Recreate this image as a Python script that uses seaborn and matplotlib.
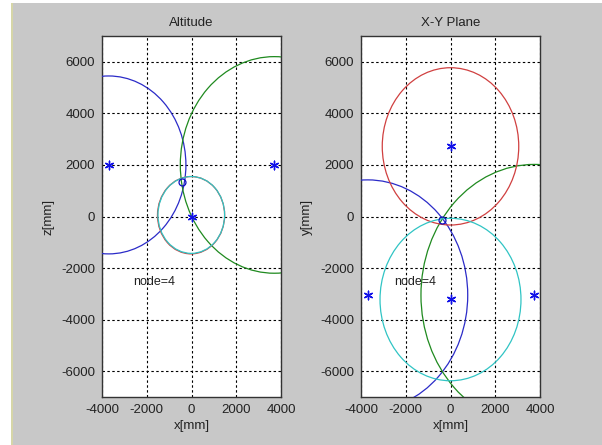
import numpy as np
import pandas as pd
import matplotlib
matplotlib.use('Agg')
import matplotlib.pyplot as plt
from matplotlib.patches import Circle, Rectangle
import seaborn as sns

# circles (sphere slices) seen in each view: centre x, centre y, radius
alt_cx = [-3700, 3700, -20, -10]
alt_cz = [2000, 2000, 50, 60]
alt_r = [3450, 4200, 1500, 1490]

xy_cx = [-3700, 3750, 0, 0]
xy_cy = [-3050, -3050, 2720, -3220]
xy_r = [4470, 5070, 3050, 3150]

ring_colors = ['#2b2bc8', '#1f8a1f', '#d04040', '#30c4c4']

# node positions (stars)
alt_node_x = [-3700, 3700, 0]
alt_node_z = [2000, 2000, 0]
xy_node_x = [-3700, 3750, 0, 0]
xy_node_y = [-3050, -3050, 2750, -3200]

# estimated position (small circle)
alt_est = (-430, 1330)
xy_est = (-370, -150)

x_ticks = [-4000, -2000, 0, 2000, 4000]
y_ticks = [-6000, -4000, -2000, 0, 2000, 4000, 6000]
node_label = 'node=4'

sns.set_style('white')
plt.rcParams['font.family'] = ['Liberation Sans', 'DejaVu Sans']
plt.rcParams['axes.unicode_minus'] = False

bg = '#c8c8c8'
fig = plt.figure(figsize=(6.02, 4.45), dpi=100, facecolor=bg)
# white margins of the scanned page
fig.patches.append(Rectangle((0, 0), 11 / 602, 1, transform=fig.transFigure,
                             facecolor='white', edgecolor='none', zorder=0))
fig.patches.append(Rectangle((11 / 602, 0), 2 / 602, 1, transform=fig.transFigure,
                             facecolor='#d6d6a8', edgecolor='none', zorder=0))
fig.patches.append(Rectangle((0, 1 - 3 / 445), 1, 3 / 445, transform=fig.transFigure,
                             facecolor='white', edgecolor='none', zorder=0))

ax1 = fig.add_axes([102 / 602, 1 - 397 / 445, 179 / 602, 361 / 445])
ax2 = fig.add_axes([361 / 602, 1 - 397 / 445, 179 / 602, 361 / 445])


def draw_view(ax, cx, cy, rr, nx, ny, est, title, ylabel, text_xy):
    ax.set_facecolor('white')
    for x0, y0, r, c in zip(cx, cy, rr, ring_colors):
        ax.add_patch(Circle((x0, y0), r, fill=False, edgecolor=c, linewidth=0.9, zorder=3))
    nodes = pd.DataFrame({'x': nx, 'y': ny})
    sns.scatterplot(data=nodes, x='x', y='y', ax=ax, marker=(6, 2, 0), color='#1010e8',
                    s=38, linewidth=1.0, zorder=4)
    ax.plot([est[0]], [est[1]], marker='o', markersize=5, markerfacecolor='none',
            markeredgecolor='#1010c0', markeredgewidth=0.9, zorder=5)
    ax.text(text_xy[0], text_xy[1], node_label, fontsize=9, color='#222222',
            va='center', ha='left', zorder=6)
    ax.set_xlim(-4000, 4000)
    ax.set_ylim(-7000, 7000)
    ax.set_xticks(x_ticks)
    ax.set_yticks(y_ticks)
    ax.grid(True, color='black', linestyle=(0, (2.2, 2.2)), linewidth=0.8)
    ax.set_axisbelow(True)
    ax.tick_params(direction='in', length=3, width=0.8, labelsize=9.5,
                   colors='#222222', pad=5)
    for sp in ax.spines.values():
        sp.set_color('#333333')
        sp.set_linewidth(1.0)
    ax.set_title(title, fontsize=9.5, color='#222222', pad=7)
    ax.set_xlabel('x[mm]', fontsize=9.5, color='#222222', labelpad=3)
    ax.set_ylabel(ylabel, fontsize=9.5, color='#222222', labelpad=5)


draw_view(ax1, alt_cx, alt_cz, alt_r, alt_node_x, alt_node_z, alt_est,
          'Altitude', 'z[mm]', (-2600, -2550))
draw_view(ax2, xy_cx, xy_cy, xy_r, xy_node_x, xy_node_y, xy_est,
          'X-Y Plane', 'y[mm]', (-2500, -2550))

fig.savefig('out.png', dpi=100, facecolor=bg)
